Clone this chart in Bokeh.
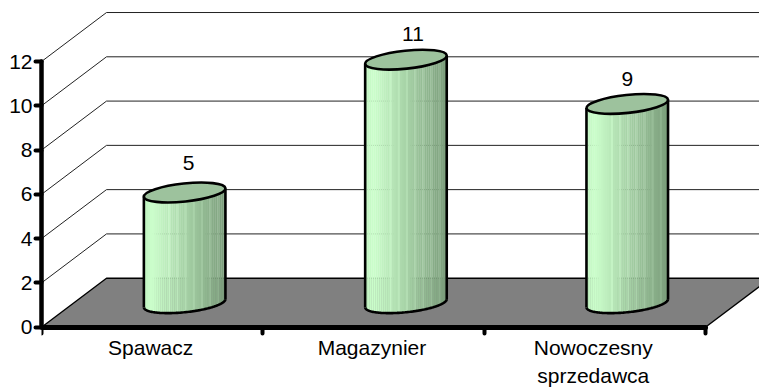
import numpy as np
from bokeh.embed import file_html
from bokeh.models import FixedTicker, Range1d
from bokeh.plotting import figure
from bokeh.resources import INLINE

categories = ["Spawacz", "Magazynier", "Nowoczesny\nsprzedawca"]
values = [5, 11, 9]
y_ticks = [0, 2, 4, 6, 8, 10, 12]

FONT = "Liberation Sans"
FS = "21px"
W, H = 759, 387
LEFT, ZERO_Y = 41, 326.7
PX_X = 221.3
PX_Y = 22.14
DEPTH_X, DEPTH_Y = 65.0, 49.0

def dx(px):
    return np.asarray(px, dtype=float) / PX_X

def dy(px):
    return np.asarray(px, dtype=float) / PX_Y

p = figure(width=W, height=H, output_backend="svg", toolbar_location=None,
           x_range=Range1d(0, (W - LEFT) / PX_X),
           y_range=Range1d(-(H - ZERO_Y) / PX_Y, ZERO_Y / PX_Y),
           min_border_left=LEFT, min_border_right=0, min_border_top=0,
           min_border_bottom=0, outline_line_color=None)
p.grid.visible = False
p.background_fill_color = "white"

n = len(categories)
back_x, back_y = dx(DEPTH_X), dy(DEPTH_Y)

# walls' grid lines
far = n + back_x + 0.2
xs = [[0, back_x, far] for v in y_ticks if v > 0]
ys = [[v, v + back_y, v + back_y] for v in y_ticks if v > 0]
p.multi_line(xs, ys, line_color="#222222", line_width=1)

# floor
p.patch([0, back_x, n + back_x, n + 0.0], [0, back_y, back_y, 0],
        fill_color="#808080", line_color="black", line_width=1.4)

# cylinders
A, B, TH = 41.0, 9.0, np.radians(6)
t0 = np.arctan2(-B * np.sin(TH), A * np.cos(TH))
tt = np.linspace(t0, t0 - np.pi, 80)
arc_x = A * np.cos(tt) * np.cos(TH) - B * np.sin(tt) * np.sin(TH)
arc_y = A * np.cos(tt) * np.sin(TH) + B * np.sin(tt) * np.cos(TH)
order = np.argsort(arc_x)
edge_r = (arc_x[0], arc_y[0])
edge_l = (arc_x[-1], arc_y[-1])
STRIPS = 40
edges = np.linspace(edge_l[0], edge_r[0], STRIPS + 1)

def shade(f, lighter):
    c0, c1 = np.array([204, 255, 204]), np.array([122, 156, 122])
    f2 = max(0.0, (f - 0.1) / 0.9)
    c = c0 + (c1 - c0) * f2
    if f < 0.1:
        c = c - (0.1 - f) * 120
    if lighter and f > 0.3:
        c = c + 12
    c = np.clip(c, 0, 255).astype(int)
    return "#%02x%02x%02x" % tuple(c)

colors = [shade((i + 0.5) / STRIPS, i % 4 == 0) for i in range(STRIPS)]
mid_x = (edges[:-1] + edges[1:]) / 2
bottom_px = np.interp(mid_x, arc_x[order], arc_y[order])
top_px = mid_x * np.tan(TH)

for i, v in enumerate(values):
    cx = i + 0.5 + back_x / 2
    cy0 = back_y / 2 - dy(0.5)
    p.quad(left=cx + dx(edges[:-1]), right=cx + dx(edges[1:]) + dx(0.25),
           bottom=cy0 + dy(bottom_px), top=cy0 + v + dy(top_px),
           fill_color=colors, line_color=None)
    p.line(cx + dx(arc_x), cy0 + dy(arc_y), line_color="black", line_width=2.6)
    for ex, ey in (edge_l, edge_r):
        p.line([cx + dx(ex)] * 2, [cy0 + dy(ey), cy0 + v + dy(ey)],
               line_color="black", line_width=2.6)
    p.ellipse(x=[cx], y=[cy0 + v], width=2 * A, height=2 * B, angle=TH,
              width_units="screen", height_units="screen",
              fill_color="#9dc29d", line_color="black", line_width=2.6)

# value labels
nudge_x = [4, 7, 0]
nudge_y = [29, 25, 24]
p.text(x=[i + 0.5 + back_x / 2 + dx(nudge_x[i]) for i in range(n)],
       y=[back_y / 2 + values[i] + dy(nudge_y[i]) for i in range(n)],
       text=[str(v) for v in values], text_align="center", text_baseline="middle",
       text_font={"value": FONT}, text_font_size={"value": FS}, text_color="black")

# axes
ya = p.yaxis[0]
ya.ticker = FixedTicker(ticks=y_ticks, minor_ticks=[])
ya.bounds = (0, 12)
ya.axis_line_color = "black"
ya.axis_line_width = 4.5
ya.axis_line_cap = "round"
ya.major_tick_out = 6
ya.major_tick_in = 0
ya.major_tick_line_color = "black"
ya.major_tick_line_width = 4
ya.major_tick_line_cap = "round"
ya.minor_tick_line_color = None
ya.major_label_standoff = 3
ya.major_label_text_font = FONT
ya.major_label_text_font_size = FS
ya.major_label_text_color = "black"

xa = p.xaxis[0]
centers = [i + 0.5 - float(dx(1.5)) for i in range(n)]
xa.fixed_location = 0
xa.ticker = FixedTicker(ticks=centers, minor_ticks=list(range(n + 1)))
xa.major_label_overrides = {c: t for c, t in zip(centers, categories)}
xa.bounds = (0, n)
xa.axis_line_color = "black"
xa.axis_line_width = 5
xa.axis_line_cap = "round"
xa.major_tick_line_color = None
xa.major_tick_out = 0
xa.major_tick_in = 0
xa.minor_tick_out = 6
xa.minor_tick_in = 0
xa.minor_tick_line_color = "black"
xa.minor_tick_line_width = 4
xa.minor_tick_line_cap = "round"
xa.major_label_standoff = 3
xa.major_label_text_font = FONT
xa.major_label_text_font_size = FS
xa.major_label_text_color = "black"

open("out.html", "w").write(file_html(p, INLINE))
